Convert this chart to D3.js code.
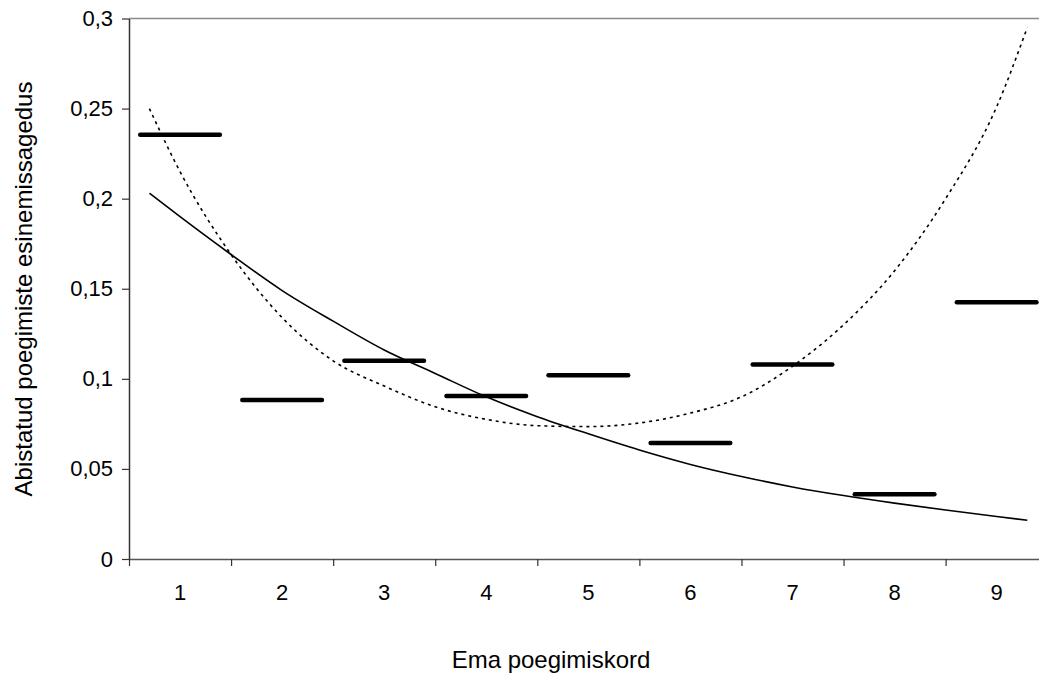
<!DOCTYPE html>
<html>
<head>
<meta charset="utf-8">
<script src="https://cdn.jsdelivr.net/npm/d3@7"></script>
<style>
  body { margin: 0; background: #fff; }
  svg { display: block; font-family: "Liberation Sans", Arial, sans-serif; }
</style>
</head>
<body>
<svg width="1039" height="673"></svg>
<script>
// categories (mother's calving order) and observed frequency per category
let categories = ['1', '2', '3', '4', '5', '6', '7', '8', '9'];
let observed = [0.2355, 0.0883, 0.110, 0.0905, 0.102, 0.0644, 0.108, 0.036, 0.1425];

// trend lines at these x positions (category units)
let trendX      = [0.7, 1, 1.5, 2, 2.5, 3, 3.5, 4, 4.5, 5, 5.5, 6, 6.5, 7, 7.5, 8, 8.5, 9, 9.3];
let trendSolid  = [0.203, 0.190, 0.169, 0.149, 0.132, 0.116, 0.103, 0.090, 0.079, 0.0695,
                   0.0605, 0.0525, 0.0458, 0.040, 0.0352, 0.031, 0.0272, 0.0236, 0.0215];
let trendDotted = [0.25, 0.215, 0.169, 0.134, 0.110, 0.096, 0.0845, 0.0775, 0.074, 0.0735,
                   0.0755, 0.081, 0.090, 0.107, 0.130, 0.160, 0.200, 0.251, 0.295];

let yTicks = [0, 0.05, 0.1, 0.15, 0.2, 0.25, 0.3];

let svg = d3.select('svg');
let plotLeft = 129, plotRight = 1047.7, plotTop = 18.5, plotBottom = 559;

let x = d3.scaleBand().domain(categories).range([plotLeft, plotRight]).padding(0);
let xLin = d3.scaleLinear().domain([0.5, 9.5]).range([plotLeft, plotRight]);
let y = d3.scaleLinear().domain([0, 0.3]).range([plotBottom, plotTop]);

// top border of plot area
svg.append('line')
  .attr('x1', plotLeft).attr('x2', plotRight)
  .attr('y1', plotTop).attr('y2', plotTop)
  .attr('stroke', '#8a8a8a').attr('stroke-width', 1.5);

// y axis
let yAxis = svg.append('g')
  .attr('transform', `translate(${plotLeft},0)`)
  .call(d3.axisLeft(y).tickValues(yTicks).tickSize(7).tickSizeOuter(0)
    .tickFormat(d => String(d).replace('.', ',')));
yAxis.select('.domain').attr('stroke', '#333').attr('stroke-width', 1.5);
yAxis.selectAll('.tick line').attr('stroke', '#333').attr('stroke-width', 1.2);
yAxis.selectAll('.tick text')
  .attr('x', -16)
  .attr('font-size', 22).attr('font-family', 'Liberation Sans, Arial, sans-serif')
  .attr('fill', '#000');

// x axis: ticks between categories
let xAxis = svg.append('g')
  .attr('transform', `translate(0,${plotBottom})`)
  .call(d3.axisBottom(xLin).tickValues(d3.range(0.5, 10, 1)).tickSize(7).tickSizeOuter(0)
    .tickFormat(''));
xAxis.select('.domain').attr('stroke', '#555').attr('stroke-width', 1.5);
xAxis.selectAll('.tick line').attr('stroke', '#333').attr('stroke-width', 1.2);

let xLabels = svg.append('g')
  .attr('transform', `translate(0,${plotBottom})`)
  .call(d3.axisBottom(x).tickSize(0).tickPadding(25));
xLabels.select('.domain').remove();
xLabels.selectAll('text')
  .attr('font-size', 22).attr('font-family', 'Liberation Sans, Arial, sans-serif')
  .attr('fill', '#000');

// trend lines
let line = d3.line()
  .x((d, i) => xLin(trendX[i]))
  .y(d => y(d))
  .curve(d3.curveMonotoneX);

svg.append('path')
  .datum(trendDotted)
  .attr('d', line)
  .attr('fill', 'none')
  .attr('stroke', '#000')
  .attr('stroke-width', 1.6)
  .attr('stroke-dasharray', '3,4');

svg.append('path')
  .datum(trendSolid)
  .attr('d', line)
  .attr('fill', 'none')
  .attr('stroke', '#000')
  .attr('stroke-width', 1.6);

// observed values as dash markers
let half = x.bandwidth() * 0.39;
svg.selectAll('.dash')
  .data(observed)
  .enter().append('line')
  .attr('class', 'dash')
  .attr('x1', (d, i) => x(categories[i]) + x.bandwidth() / 2 - half)
  .attr('x2', (d, i) => x(categories[i]) + x.bandwidth() / 2 + half)
  .attr('y1', d => y(d))
  .attr('y2', d => y(d))
  .attr('stroke', '#000')
  .attr('stroke-width', 4.5)
  .attr('stroke-linecap', 'round');

// axis titles
svg.append('text')
  .attr('x', 551).attr('y', 668)
  .attr('text-anchor', 'middle')
  .attr('font-size', 24)
  .text('Ema poegimiskord');

svg.append('text')
  .attr('transform', 'translate(32,289) rotate(-90)')
  .attr('text-anchor', 'middle')
  .attr('font-size', 24)
  .text('Abistatud poegimiste esinemissagedus');
</script>
</body>
</html>
